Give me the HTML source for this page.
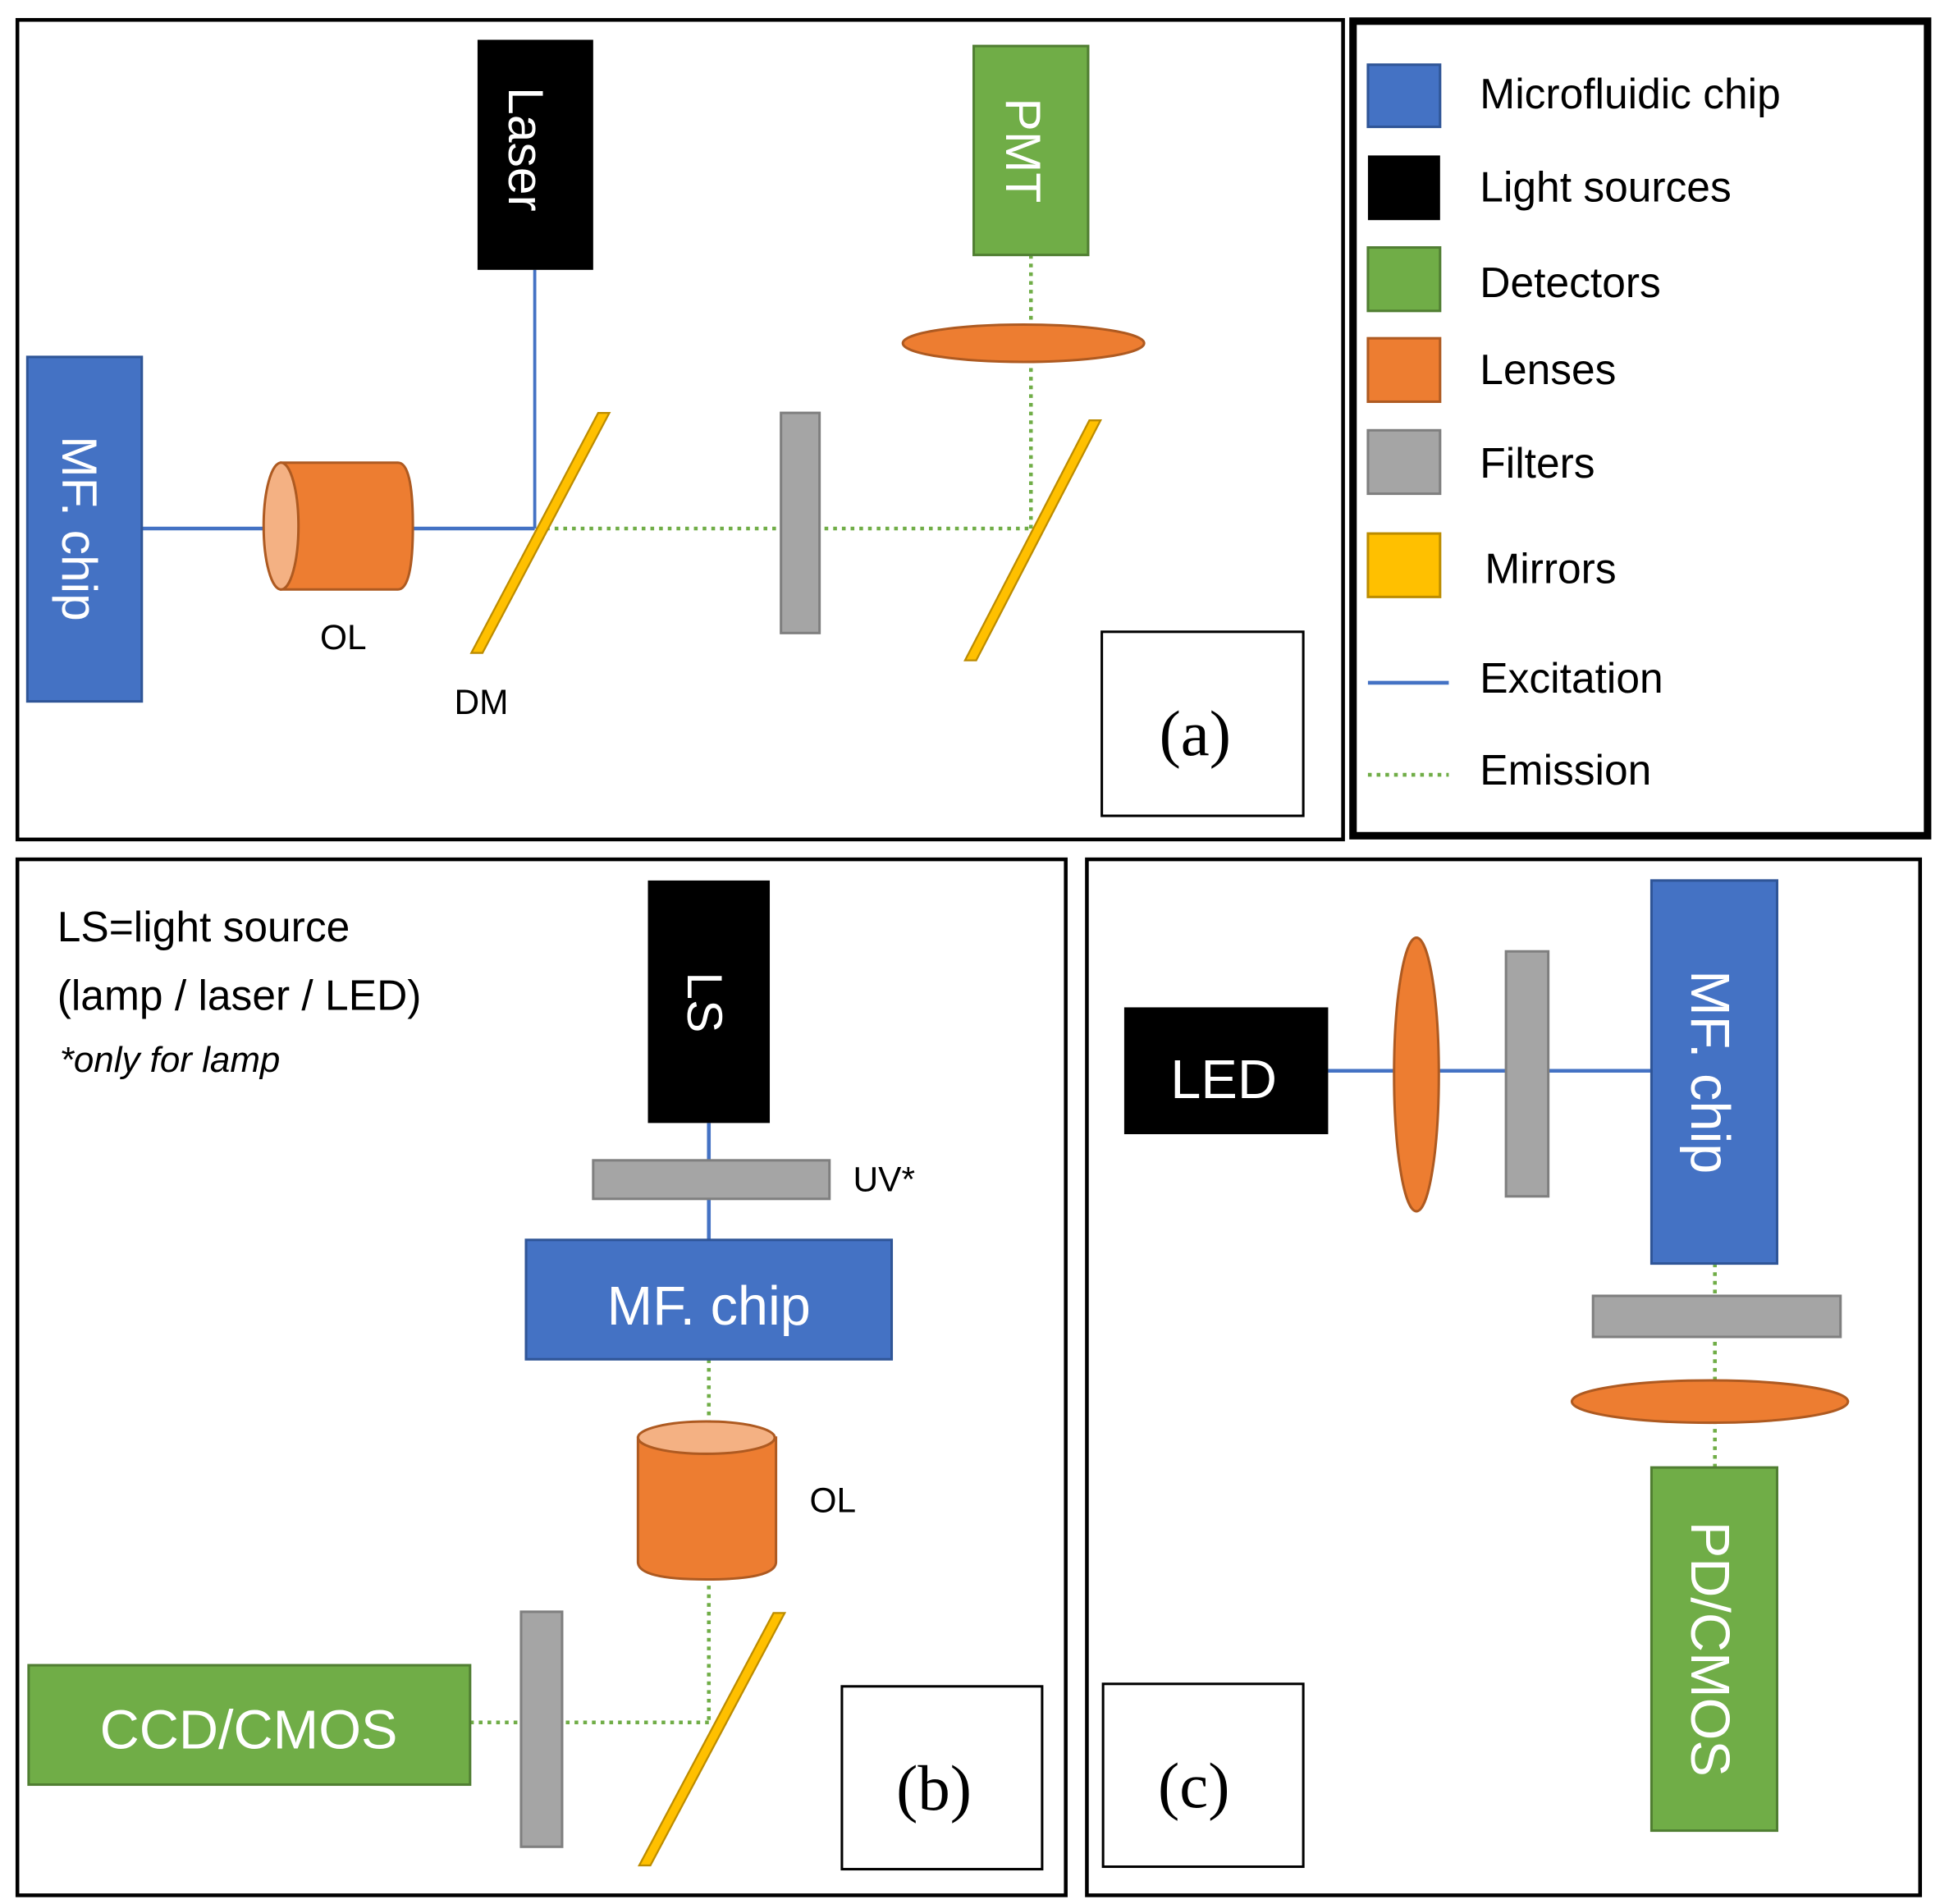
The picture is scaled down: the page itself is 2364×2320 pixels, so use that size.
<!DOCTYPE html>
<html><head><meta charset="utf-8"><style>
html,body{margin:0;padding:0;background:#fff}
svg{display:block}
text{font-family:"Liberation Sans",sans-serif}
text.serif{font-family:"Liberation Serif",serif}
</style></head><body>
<svg width="2364" height="2320" viewBox="0 0 1560 1531" preserveAspectRatio="none" xmlns="http://www.w3.org/2000/svg">
<rect width="1560" height="1531" fill="#fff"/>
<!-- panel frames -->
<rect x="14" y="16" width="1066" height="659" fill="none" stroke="#000" stroke-width="3"/>
<rect x="1088" y="17" width="462" height="655" fill="none" stroke="#000" stroke-width="6"/>
<rect x="14" y="691" width="843" height="833" fill="none" stroke="#000" stroke-width="3"/>
<rect x="874" y="691" width="670" height="833" fill="none" stroke="#000" stroke-width="3"/>

<!-- (a) -->
<line x1="114" y1="425" x2="430" y2="425" stroke="#4472C4" stroke-width="3"/>
<line x1="430" y1="217" x2="430" y2="425" stroke="#4472C4" stroke-width="2.5"/>
<line x1="432" y1="425" x2="828" y2="425" stroke="#70AD47" stroke-width="3" stroke-dasharray="3,4"/>
<line x1="829" y1="425" x2="829" y2="205" stroke="#70AD47" stroke-width="3" stroke-dasharray="3,4"/>
<rect x="22" y="287" width="92" height="277" fill="#4472C4" stroke="#2F5597" stroke-width="2"/>
<text transform="translate(50,425) rotate(90)" text-anchor="middle" font-size="40" fill="#fff">MF. chip</text>
<path d="M226,372 H320 Q332,372 332,423 Q332,474 320,474 H226 Z" fill="#ED7D31" stroke="#AE5A21" stroke-width="2"/>
<ellipse cx="226" cy="423" rx="14" ry="51" fill="#F4B183" stroke="#AE5A21" stroke-width="2"/>
<rect x="384" y="32" width="93" height="185" fill="#000"/>
<text transform="translate(409,120) rotate(90)" text-anchor="middle" font-size="40" fill="#fff">Laser</text>
<polygon points="379,525 388,525 490,332 481,332" fill="#FFC000" stroke="#BC8C00" stroke-width="1.5"/>
<rect x="628" y="332" width="31" height="177" fill="#A5A5A5" stroke="#7F7F7F" stroke-width="2"/>
<polygon points="776,531 785,531 885,338 876,338" fill="#FFC000" stroke="#BC8C00" stroke-width="1.5"/>
<ellipse cx="823" cy="276" rx="97" ry="15" fill="#ED7D31" stroke="#AE5A21" stroke-width="2"/>
<rect x="783" y="37" width="92" height="168" fill="#70AD47" stroke="#507E32" stroke-width="2"/>
<text transform="translate(809,121) rotate(90)" text-anchor="middle" font-size="40" fill="#fff">PMT</text>
<text x="276" y="522" text-anchor="middle" font-size="28">OL</text>
<text x="387" y="574" text-anchor="middle" font-size="28">DM</text>
<rect x="886" y="508" width="162" height="148" fill="#fff" stroke="#000" stroke-width="2"/>
<text class="serif" x="961" y="607" text-anchor="middle" font-size="52">(a)</text>

<!-- legend -->
<rect x="1100" y="52" width="58" height="50" fill="#4472C4" stroke="#2F5597" stroke-width="2"/>
<rect x="1100" y="125" width="58" height="52" fill="#000"/>
<rect x="1100" y="199" width="58" height="51" fill="#70AD47" stroke="#507E32" stroke-width="2"/>
<rect x="1100" y="272" width="58" height="51" fill="#ED7D31" stroke="#AE5A21" stroke-width="2"/>
<rect x="1100" y="346" width="58" height="51" fill="#A5A5A5" stroke="#7F7F7F" stroke-width="2"/>
<rect x="1100" y="429" width="58" height="51" fill="#FFC000" stroke="#BC8C00" stroke-width="2"/>
<line x1="1100" y1="549" x2="1165" y2="549" stroke="#4472C4" stroke-width="3"/>
<line x1="1100" y1="623" x2="1165" y2="623" stroke="#70AD47" stroke-width="3" stroke-dasharray="3,4"/>
<g font-size="34" fill="#000">
<text x="1190" y="87">Microfluidic chip</text>
<text x="1190" y="162">Light sources</text>
<text x="1190" y="239">Detectors</text>
<text x="1190" y="309">Lenses</text>
<text x="1190" y="384">Filters</text>
<text x="1194" y="469">Mirrors</text>
<text x="1190" y="557">Excitation</text>
<text x="1190" y="631">Emission</text>
</g>

<!-- (b) -->
<text x="46" y="757" font-size="34">LS=light source</text>
<text x="46" y="812" font-size="34">(lamp / laser / LED)</text>
<text x="48" y="862" font-size="29" font-style="italic">*only for lamp</text>
<line x1="570" y1="903" x2="570" y2="997" stroke="#4472C4" stroke-width="3"/>
<line x1="570" y1="1093" x2="570" y2="1385" stroke="#70AD47" stroke-width="3" stroke-dasharray="3,4"/>
<line x1="378" y1="1385" x2="570" y2="1385" stroke="#70AD47" stroke-width="3" stroke-dasharray="3,4"/>
<rect x="521" y="708" width="98" height="195" fill="#000"/>
<text transform="translate(553,806) rotate(90)" text-anchor="middle" font-size="40" fill="#fff">LS</text>
<rect x="477" y="933" width="190" height="31" fill="#A5A5A5" stroke="#7F7F7F" stroke-width="2"/>
<text x="686" y="958" font-size="28">UV*</text>
<rect x="423" y="997" width="294" height="96" fill="#4472C4" stroke="#2F5597" stroke-width="2"/>
<text x="570" y="1065" text-anchor="middle" font-size="44" fill="#fff">MF. chip</text>
<path d="M513,1156 V1256 Q513,1270 568,1270 Q624,1270 624,1256 V1156 Z" fill="#ED7D31" stroke="#AE5A21" stroke-width="2"/>
<ellipse cx="568" cy="1156" rx="55" ry="13" fill="#F4B183" stroke="#AE5A21" stroke-width="2"/>
<text x="651" y="1216" font-size="28">OL</text>
<polygon points="514,1500 523,1500 631,1297 622,1297" fill="#FFC000" stroke="#BC8C00" stroke-width="1.5"/>
<rect x="23" y="1339" width="355" height="96" fill="#70AD47" stroke="#507E32" stroke-width="2"/>
<text x="200" y="1406" text-anchor="middle" font-size="44" fill="#fff">CCD/CMOS</text>
<rect x="419" y="1296" width="33" height="189" fill="#A5A5A5" stroke="#7F7F7F" stroke-width="2"/>
<rect x="677" y="1356" width="161" height="147" fill="#fff" stroke="#000" stroke-width="2"/>
<text class="serif" x="751" y="1455" text-anchor="middle" font-size="52">(b)</text>

<!-- (c) -->
<line x1="1068" y1="861" x2="1328" y2="861" stroke="#4472C4" stroke-width="3"/>
<line x1="1379" y1="1016" x2="1379" y2="1180" stroke="#70AD47" stroke-width="3" stroke-dasharray="3,4"/>
<rect x="904" y="810" width="164" height="102" fill="#000"/>
<text x="984" y="883" text-anchor="middle" font-size="44" fill="#fff">LED</text>
<ellipse cx="1139" cy="864" rx="18" ry="110" fill="#ED7D31" stroke="#AE5A21" stroke-width="2"/>
<rect x="1211" y="765" width="34" height="197" fill="#A5A5A5" stroke="#7F7F7F" stroke-width="2"/>
<rect x="1328" y="708" width="101" height="308" fill="#4472C4" stroke="#2F5597" stroke-width="2"/>
<text transform="translate(1360,862) rotate(90)" text-anchor="middle" font-size="44" fill="#fff">MF. chip</text>
<rect x="1281" y="1042" width="199" height="33" fill="#A5A5A5" stroke="#7F7F7F" stroke-width="2"/>
<ellipse cx="1375" cy="1127" rx="111" ry="17" fill="#ED7D31" stroke="#AE5A21" stroke-width="2"/>
<rect x="1328" y="1180" width="101" height="292" fill="#70AD47" stroke="#507E32" stroke-width="2"/>
<text transform="translate(1360,1326) rotate(90)" text-anchor="middle" font-size="44" fill="#fff">PD/CMOS</text>
<rect x="887" y="1354" width="161" height="147" fill="#fff" stroke="#000" stroke-width="2"/>
<text class="serif" x="960" y="1453" text-anchor="middle" font-size="52">(c)</text>
</svg>
</body></html>
